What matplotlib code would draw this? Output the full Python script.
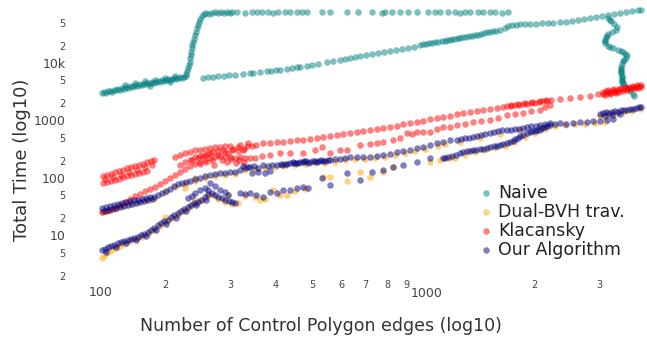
#!/usr/bin/env python3
"""
Total time vs. number of control polygon edges, log-log scatter
for the four collision methods.
"""

import numpy as np
import matplotlib
matplotlib.use("Agg")
import matplotlib.pyplot as plt
from matplotlib.ticker import FixedLocator, FixedFormatter
from matplotlib.transforms import ScaledTranslation

# =============================================================================
# Data  (edges, total time)
# =============================================================================
naive_low = [(132, 3010), (133, 3130), (135, 3010), (137, 3260), (138, 3260), (140, 3130),
             (142, 3390), (144, 3390), (145, 3530), (147, 3390), (149, 3680), (151, 3530),
             (153, 3830), (155, 3680), (157, 3980), (159, 3830), (161, 3980), (163, 4140),
             (165, 3980), (167, 4310), (169, 4140), (171, 4310), (173, 4490), (175, 4310),
             (178, 4490), (180, 4670), (182, 4490), (184, 4670), (187, 4860), (189, 4670),
             (191, 5060), (194, 4860), (196, 5060), (199, 5270), (201, 5060), (204, 5270),
             (206, 5480), (209, 5270), (211, 5480), (214, 5710), (217, 5480), (219, 5710),
             (222, 5940), (152, 4140), (162, 4490), (172, 4860), (183, 5060), (195, 5480),
             (208, 5940), (178, 3980), (201, 4670)]
naive_rise = [(222, 6440), (224, 7260), (225, 8190), (226, 9230), (228, 10400), (228, 12200),
              (229, 13800), (229, 15500), (231, 18200), (231, 20600), (232, 23200),
              (234, 26200), (235, 30700), (237, 34600), (238, 40600), (239, 45800),
              (241, 51600), (242, 58200), (246, 65700), (249, 71200), (252, 74100),
              (256, 71200), (261, 74100), (266, 77100), (271, 74100), (276, 77100),
              (282, 74100), (287, 77100), (292, 74100)]
naive_plateau = [(296, 76000), (306, 77100), (321, 75500), (336, 77100), (346, 78500),
                 (357, 76000), (371, 77100), (383, 75500), (395, 77100), (412, 78500),
                 (426, 77100), (445, 76000), (459, 77100), (473, 77100), (520, 78500),
                 (546, 77100), (607, 76000), (650, 77100), (710, 77100), (755, 75500),
                 (770, 77100), (804, 78500), (845, 77100), (888, 76000), (940, 77100),
                 (1007, 77100), (1052, 78500), (1085, 76000), (1141, 77100), (1192, 77100),
                 (1229, 75500), (1268, 77100), (1308, 78500), (1375, 77100), (1418, 76000),
                 (1482, 77100), (1529, 77100), (1597, 75500), (1659, 77100)]
naive_high = [(247, 5480), (255, 5710), (263, 5710), (271, 5940), (282, 5940), (291, 6180),
              (302, 6180), (317, 6440), (331, 6700), (338, 6700), (353, 6970), (368, 7260),
              (378, 7260), (390, 7550), (400, 7550), (417, 7870), (431, 8190), (444, 8520),
              (453, 8520), (473, 8870), (488, 9230), (507, 9610), (536, 10400), (556, 10800),
              (581, 11300), (600, 11700), (618, 12200), (638, 12700), (658, 13200),
              (684, 13800), (710, 14300), (737, 14900), (765, 15500), (794, 16200),
              (824, 16800), (856, 17500), (888, 18200), (922, 19000), (957, 20600),
              (975, 21400), (994, 21400), (1013, 22300), (1032, 22300), (1051, 23200),
              (1071, 23200), (1098, 24100), (1119, 24100), (1133, 25100), (1154, 25100),
              (1169, 26200), (1191, 26200), (1213, 27200), (1229, 27200), (1252, 28300),
              (1276, 28300), (1300, 29500), (1324, 29500), (1349, 30700), (1375, 30700),
              (1401, 31900), (1427, 33200), (1454, 34600), (1482, 34600), (1510, 36000),
              (1538, 36000), (1577, 37500), (1627, 40600), (1658, 44000), (1700, 45800),
              (1743, 45800), (1787, 47700), (1844, 47700), (1902, 47700), (1974, 47700),
              (2049, 49600), (2128, 49600), (2195, 49600), (2293, 51600), (2381, 51600),
              (2472, 53800), (2566, 56000), (2664, 58200), (2765, 60600), (2871, 63100),
              (2981, 65700), (3094, 68400), (3212, 71200), (3334, 74100), (3462, 77100),
              (3594, 80200), (3731, 83500), (3802, 83500)]
naive_drop = [(3094, 60600), (3134, 57000), (3152, 53800), (3212, 47700), (3273, 42300),
              (3254, 37500), (3172, 34600), (3094, 31900), (3075, 30000), (3056, 28300),
              (3037, 25100), (3037, 23700), (3037, 22300), (3094, 19800), (3134, 19000),
              (3192, 18200), (3294, 16800), (3356, 16200), (3398, 15500), (3440, 14600),
              (3483, 13800), (3462, 12200), (3419, 11500), (3398, 10800), (3377, 9610),
              (3356, 8520), (3356, 8000), (3356, 7550), (3356, 7100), (3356, 6700),
              (3377, 5940), (3377, 5600), (3377, 5270), (3377, 4950), (3377, 4670),
              (3398, 4400), (3419, 4140), (3483, 3680), (3549, 3260), (3616, 2890),
              (3639, 2670)]

dual_low = [(131.6, 4.06), (134.1, 4.58), (136.6, 5.17), (140.1, 5.60), (143.6, 6.06),
            (147.3, 6.57), (151.0, 7.12), (156.7, 8.03), (162.7, 8.70), (168.9, 9.42),
            (175.3, 10.6), (182.0, 12.5), (188.9, 14.6), (196.1, 17.2), (203.6, 20.2),
            (211.3, 22.8), (219.4, 26.7), (227.8, 31.4), (236.5, 36.8), (245.5, 41.5),
            (254.8, 48.7), (261.2, 50.7), (271.2, 43.2), (283.3, 38.3), (296.0, 35.4),
            (307.3, 36.8), (194.9, 21.0), (220.8, 67.1), (235.0, 100.2), (235.0, 41.5),
            (288.7, 50.7)]
dual_up = [(131.6, 25.7), (136.6, 26.7), (142.8, 28.9), (149.1, 32.6), (156.7, 35.4),
           (164.7, 38.3), (173.2, 41.5), (182.0, 43.2), (194.9, 57.2), (207.5, 69.8),
           (220.8, 78.8), (235.0, 88.8), (250.1, 100.2), (266.2, 108.5), (283.3, 113.0),
           (301.6, 117.6), (321.0, 138.0)]
dual_mid = [(321.0, 48.7), (341.7, 46.8), (363.7, 43.2), (399.4, 50.7), (438.6, 59.5),
            (466.8, 64.5), (352.5, 41.5), (382.3, 61.9), (417.3, 50.7), (522.4, 104.3),
            (545.7, 104.3), (606.9, 88.8), (658.1, 127.4), (700.5, 104.3), (759.7, 127.4),
            (808.6, 155.6), (1018.7, 190), (1084.4, 206), (1154.2, 223)]
dual_main = [(341.7, 143.6), (363.7, 149.5), (387.1, 155.6), (412.1, 162.0), (438.6, 168.6),
             (466.8, 175.5), (496.9, 182.6), (529.0, 182.6), (563.0, 190), (599.3, 206),
             (637.9, 214), (679.0, 214), (722.7, 223), (769.2, 232), (818.8, 251),
             (871.6, 272), (927.7, 295), (987.4, 319), (1070.9, 360), (1118.8, 390)]
dual_right = [(1190.8, 223), (1267.5, 251), (1349.2, 283), (1436.0, 307), (1528.6, 332),
              (1627.1, 360), (1731.9, 423), (1843.4, 516), (1962.3, 606), (2088.7, 711),
              (2223.2, 802), (2366.4, 835), (2518.9, 869), (2681.2, 869), (2853.9, 905),
              (3037.7, 942), (1228.5, 423), (1391.9, 496), (1577.1, 582), (1786.8, 684),
              (2024.5, 771), (2944.4, 1197), (3094, 1246), (3253.8, 1297), (3420.4, 1405),
              (3595.5, 1463), (3779.6, 1585)]

klac_cluster = [(132.5, 108.5), (135.9, 113.0), (139.3, 117.6), (142.8, 127.4), (146.4, 132.6),
                (150.0, 138.0), (153.8, 149.5), (157.7, 155.6), (161.7, 162.0), (165.8, 168.6),
                (170.0, 175.5), (174.3, 190), (178.6, 198), (182.0, 206),
                (132.5, 82.0), (135.9, 85.3), (139.3, 88.8), (142.8, 92.5), (146.4, 96.2),
                (150.0, 104.3), (153.8, 108.5), (157.7, 113.0), (161.7, 117.6), (165.8, 122.4),
                (170.0, 127.4), (174.3, 132.6), (134.1, 96.2), (141.0, 104.3), (148.2, 113.0),
                (155.8, 127.4), (163.7, 138.0), (172.1, 155.6), (179.8, 168.6)]
klac_low = [(131.6, 25.7), (134.9, 26.7), (138.4, 27.8), (142.8, 30.1), (147.3, 34.0),
            (151.9, 38.3), (156.7, 43.2), (161.7, 48.7), (166.8, 52.8), (172.1, 59.5),
            (177.5, 64.5), (183.1, 69.8), (188.9, 78.8), (194.9, 88.8), (201.1, 100.2),
            (207.5, 113.0), (214.0, 127.4), (220.8, 143.6), (227.8, 162.0), (235.0, 175.5),
            (242.4, 190), (250.1, 206), (258.0, 223), (266.2, 232), (274.6, 241),
            (283.3, 232), (292.3, 232), (301.6, 223), (311.1, 232), (321.0, 223),
            (331.2, 223), (207.5, 232), (214.0, 251), (220.8, 272), (227.8, 283),
            (235.0, 307), (242.4, 307), (250.1, 319), (258.0, 332), (266.2, 346),
            (274.6, 346), (283.3, 360), (292.3, 360), (311.1, 375), (327.1, 406),
            (242.4, 241), (258, 272), (271, 295), (283, 283), (296, 307), (307, 295),
            (319, 319), (261, 206), (288, 190), (304, 183), (319, 190), (228, 206),
            (235, 232), (250, 251), (221, 190), (214, 169), (230.6, 206), (239.4, 223),
            (247, 241), (254.8, 261), (263, 283), (271.2, 251), (280, 307), (288.7, 272),
            (298, 319), (307.3, 346), (317, 307), (325, 360), (242.4, 175.5), (251.7, 190),
            (264.5, 168.6), (278, 206), (294, 214), (309, 206)]
klac_upper = [(335.4, 360), (343.8, 375), (359.2, 406), (375.2, 406), (392.0, 423),
              (406.9, 423), (425.1, 440), (444.1, 458), (461.1, 458), (481.6, 477),
              (503.1, 496), (522.4, 516), (545.7, 538), (570.1, 560), (591.9, 582),
              (618.3, 606), (645.9, 631), (670.5, 657), (700.5, 684), (731.8, 711),
              (759.7, 740), (793.6, 771), (829.1, 802), (860.8, 869), (899.2, 905),
              (939.4, 942), (975.2, 980), (1018.7, 1061), (1064.2, 1105), (1104.9, 1150),
              (1154.2, 1197), (1205.8, 1297), (1251.7, 1350), (1307.7, 1405), (1366.2, 1463),
              (1418.2, 1523), (1481.6, 1585), (1547.8, 1650), (1606.9, 1717), (1647.6, 1787),
              (1689.2, 1787), (1731.9, 1860), (1775.7, 1860), (1820.6, 1937), (1866.7, 1937),
              (1913.9, 2016), (1962.3, 2016), (2011.9, 2098), (2062.8, 2184), (2115.0, 2184),
              (2168.4, 2273), (1690, 1860), (1760, 1937), (1840, 2016), (1930, 2098),
              (2030, 2184), (2100, 2273), (2293.7, 2366), (2441.5, 2462), (2598.8, 2563),
              (2766.2, 2668), (2907.8, 2890), (3000.0, 3131), (3056.9, 3259), (3114.6, 3131),
              (3173.5, 3393), (3233.5, 3259), (3294.6, 3393), (3356.9, 3531), (3420.4, 3531),
              (3485.3, 3675), (3550.9, 3675), (3618.0, 3825), (3686.1, 3825), (3755.9, 3981),
              (3803.3, 4144), (3037.7, 2777), (3134.1, 2890), (3253.8, 3008), (3000, 2890),
              (3076, 3008), (3152, 3008), (3233, 3131), (3313, 3131), (3398, 3259),
              (3483, 3393), (3570, 3531), (3660, 3675), (3740, 3675), (3803, 3825),
              (3094, 3393), (3212, 3531), (3334, 3675), (3462, 3825), (3594, 3981),
              (3720, 4144)]
klac_lower = [(341.7, 223), (356.9, 241), (375.2, 251), (399.4, 272), (425.1, 272),
              (461.1, 272), (496.9, 307), (519.1, 346), (545.7, 272), (580.9, 307),
              (606.9, 307), (658.1, 375), (700.5, 390), (731.8, 406), (759.7, 423),
              (808.6, 458), (844.8, 496), (882.6, 606), (910.5, 582), (939.4, 631),
              (975.2, 631), (1018.7, 631), (1064.2, 711), (1104.9, 771), (1154.2, 771),
              (1205.8, 835), (1267.5, 869), (1332.4, 942), (1400.6, 980), (1481.6, 1020),
              (1557.5, 1105), (1647.6, 1246), (1731.9, 1297), (1820.6, 1350), (1913.9, 1463),
              (2024.5, 1523), (2088.7, 1717), (2154.9, 1860)]

ours_up = [(131.6, 30.1), (133.3, 26.7), (134.9, 31.4), (136.6, 27.8), (138.4, 32.6),
           (140.1, 28.9), (141.9, 34.0), (143.6, 30.1), (145.4, 35.4), (147.3, 31.4),
           (149.1, 36.8), (151.0, 32.6), (152.9, 38.3), (154.8, 34.0), (156.7, 39.9),
           (158.7, 35.4), (160.7, 41.5), (162.7, 36.8), (164.7, 41.5), (166.8, 38.3),
           (168.9, 43.2), (171.0, 39.9), (173.2, 45.0), (175.3, 41.5), (177.5, 46.8),
           (179.8, 43.2), (182.0, 46.8), (186.6, 50.7), (191.3, 54.9), (196.1, 59.5),
           (201.1, 64.5), (206.1, 72.7), (211.3, 78.8), (216.7, 82.0), (222.2, 85.3),
           (227.8, 88.8), (235.0, 96.2), (242.4, 100.2), (250.1, 108.5), (258.0, 113.0),
           (266.2, 117.6), (274.6, 122.4), (283.3, 122.4), (292.3, 127.4), (301.6, 127.4),
           (311.1, 138.0), (321.0, 149.5), (327.1, 155.6)]
ours_low = [(131.6, 5.60), (134.1, 5.83), (136.6, 6.31), (139.3, 6.57), (141.9, 6.84),
            (145.5, 7.41), (148.2, 7.71), (151.0, 8.03), (154.8, 8.36), (157.7, 8.70),
            (160.7, 9.05), (164.7, 9.42), (167.8, 10.2), (171.0, 10.6), (175.3, 11.5),
            (178.6, 12.5), (182.0, 13.5), (186.6, 15.2), (190.1, 16.5), (193.7, 17.9),
            (198.6, 18.6), (202.4, 21.0), (206.1, 22.8), (211.3, 24.7), (215.3, 26.7),
            (219.4, 28.9), (224.9, 31.4), (229.2, 34.0), (233.5, 36.8), (239.4, 38.3),
            (243.9, 41.5), (250.1, 46.8), (254.8, 52.8), (261.2, 54.9), (266.2, 50.7),
            (271.2, 46.8), (278.0, 45.0), (283.3, 41.5), (290.5, 39.9), (296.0, 38.3),
            (301.6, 36.8), (235.0, 54.9), (242.4, 61.9), (250.1, 67.1), (254.8, 61.9),
            (224.9, 45.0), (230.6, 48.7), (258.0, 82.0), (266.2, 72.7), (274.6, 61.9),
            (283.3, 57.2), (288.7, 50.7), (134.9, 5.17), (143.6, 6.31), (152.9, 7.41),
            (162.7, 8.36), (173.2, 9.81), (184.3, 12.5), (196.1, 15.9), (208.7, 20.2),
            (222.2, 26.7), (236.5, 34.0), (251.7, 41.5)]
ours_mid = [(311.1, 54.9), (321.0, 52.8), (331.2, 54.9), (343.8, 50.7), (359.2, 46.8),
            (375.2, 57.2), (392.0, 54.9), (406.9, 61.9), (425.1, 61.9), (444.1, 67.1),
            (461.1, 69.8), (475.7, 67.1), (519.1, 100.2), (545.7, 75.7), (606.9, 122.4),
            (658.1, 92.5), (709.3, 127.4), (759.7, 138.0), (808.6, 155.6), (860.8, 168.6),
            (939.4, 190), (1018.7, 223), (1104.9, 223)]
ours_main = [(331.2, 155.6), (339.6, 162.0), (348.2, 149.5), (359.2, 168.6), (370.6, 162.0),
             (379.9, 168.6), (392.0, 168.6), (401.9, 175.5), (412.1, 175.5), (425.1, 182.6),
             (433.1, 190), (441.3, 182.6), (452.5, 190), (461.1, 190), (469.8, 198),
             (481.6, 190), (490.7, 198), (503.1, 190), (515.9, 206), (529.0, 198),
             (545.7, 206), (563.0, 214), (580.9, 214), (599.3, 223), (618.3, 232),
             (645.9, 232), (670.5, 232), (700.5, 232), (731.8, 241), (759.7, 251),
             (793.6, 261), (829.1, 283), (860.8, 295), (899.2, 307), (939.4, 332),
             (975.2, 346), (1018.7, 375), (1064.2, 406), (1104.9, 423), (1154.2, 458),
             (335.4, 122.4), (348.2, 127.4), (363.7, 122.4), (375.2, 132.6), (317.0, 162.0),
             (405, 170), (418, 178), (437, 186), (447, 180), (465, 194), (476, 186),
             (496, 194), (510, 200), (522, 194), (538, 202)]
ours_right = [(1205.8, 458), (1267.5, 496), (1332.4, 516), (1400.6, 560), (1481.6, 606),
              (1557.5, 657), (1647.6, 684), (1731.9, 711), (1820.6, 740), (1913.9, 802),
              (2024.5, 835), (2088.7, 869), (2154.9, 905), (1236, 477), (1300, 506),
              (1366, 538), (1440, 582), (1520, 631), (1600, 670), (1690, 697), (1776, 725),
              (1866, 771), (1970, 818),
              (1118.8, 223), (1168.7, 241), (1228.5, 272), (1283.4, 295), (1332.4, 307),
              (1391.9, 319), (1454.1, 332), (1519.1, 360), (1577.1, 375), (1647.6, 406),
              (1710.4, 440), (1764.6, 496), (1820.6, 560), (1902.0, 631), (1962.3, 657),
              (2024.5, 684), (2088.7, 771), (2154.9, 835), (1143, 232), (1198, 256),
              (1256, 283), (1310, 300), (1362, 313), (1422, 325), (1487, 346), (1548, 367),
              (1612, 390), (1680, 423), (1737, 468), (1792, 528), (1862, 595), (1932, 644),
              (1993, 670), (2056, 727), (2120, 802),
              (2223.2, 869), (2293.7, 905), (2381.3, 869), (2487.6, 905), (2598.8, 942),
              (2715.0, 942), (2818.5, 980), (2944.4, 980), (3076.0, 1020), (3193.3, 1061),
              (2944.4, 1297), (3000, 1350), (3056.9, 1405), (3114.6, 1350), (3173.5, 1405),
              (3233.5, 1463), (3294.6, 1405), (3356.9, 1523), (3420.4, 1523), (3485.3, 1523),
              (3550.9, 1585), (3618.0, 1585), (3686.1, 1650), (3755.9, 1717), (3803.3, 1717),
              (3037.7, 1197), (3173.5, 1246), (3336.0, 1297)]

SERIES = [
    ("Naive",          naive_low + naive_rise + naive_plateau + naive_high + naive_drop, "#008080"),
    ("Dual-BVH trav.", dual_low + dual_up + dual_mid + dual_main + dual_right,           "#FFA500"),
    ("Klacansky",      klac_cluster + klac_low + klac_upper + klac_lower,                 "#FF0000"),
    ("Our Algorithm",  ours_up + ours_low + ours_mid + ours_main + ours_right,            "#000080"),
]

Y_MAJOR = [10, 100, 1000, 10000]
Y_MAJOR_LABELS = ["10", "100", "1000", "10k"]
Y_MINOR = [2, 5, 20, 50, 200, 500, 2000, 5000, 20000, 50000]
X_MINOR = [200, 300, 400, 500, 600, 700, 800, 900, 2000, 3000]

TICK_COLOR = "#444444"
TITLE_COLOR = "#333333"

# =============================================================================
# Plot
# =============================================================================
fig = plt.figure(figsize=(6.47, 3.39), dpi=100)
ax = fig.add_axes([95 / 647, 59 / 339, 550 / 647, 275 / 339])

handles = []
for name, pts, color in SERIES:
    arr = np.array(pts, dtype=float)
    h = ax.scatter(arr[:, 0], arr[:, 1], s=22, color=color, alpha=0.5,
                   linewidths=0, label=name, clip_on=False)
    handles.append(h)

ax.set_xscale("log")
ax.set_yscale("log")
ax.set_xlim(126.0, 3900)
ax.set_ylim(1.683, 102000)

for s in ax.spines.values():
    s.set_visible(False)

# y ticks: decades big, 2 / 5 small
ax.yaxis.set_major_locator(FixedLocator(Y_MAJOR))
ax.yaxis.set_major_formatter(FixedFormatter(Y_MAJOR_LABELS))
ax.yaxis.set_minor_locator(FixedLocator(Y_MINOR))
ax.yaxis.set_minor_formatter(FixedFormatter([str(v)[0] for v in Y_MINOR]))
ax.tick_params(axis="y", which="major", length=0, pad=21, labelsize=9, labelcolor=TICK_COLOR)
ax.tick_params(axis="y", which="minor", length=0, pad=21, labelsize=7, labelcolor=TICK_COLOR)

# x ticks
ax.xaxis.set_major_locator(FixedLocator([1000]))
ax.xaxis.set_major_formatter(FixedFormatter(["1000"]))
ax.xaxis.set_minor_locator(FixedLocator(X_MINOR))
ax.xaxis.set_minor_formatter(FixedFormatter([str(v)[0] for v in X_MINOR]))
ax.tick_params(axis="x", which="major", length=0, pad=5, labelsize=9, labelcolor=TICK_COLOR)
ax.tick_params(axis="x", which="minor", length=0, pad=0, labelsize=7, labelcolor=TICK_COLOR)
shift = ScaledTranslation(-4 / 100, 0, fig.dpi_scale_trans)
for lbl in ax.get_xticklabels(minor=True):
    lbl.set_transform(lbl.get_transform() + shift)

# the "100" label sits at the left edge of the plot area
fig.text(101 / 647, 1 - 293 / 339, "100", ha="center", va="center",
         fontsize=9, color=TICK_COLOR)

fig.text(321 / 647, 1 - 326 / 339, "Number of Control Polygon edges (log10)",
         ha="center", va="center", fontsize=12.5, color=TITLE_COLOR)
fig.text(22 / 647, 1 - 160 / 339, "Total Time (log10)", rotation=90,
         ha="center", va="center", fontsize=13, color=TITLE_COLOR)

leg = fig.legend(handles=handles, loc="upper left", bbox_to_anchor=(481 / 647, 1 - 184 / 339),
                 frameon=False, fontsize=12.5, handlelength=0.6, handletextpad=0.4,
                 labelspacing=0.05, borderpad=0, borderaxespad=0, scatterpoints=1)
for t in leg.get_texts():
    t.set_color("#222222")

fig.savefig("out.png", dpi=100)
